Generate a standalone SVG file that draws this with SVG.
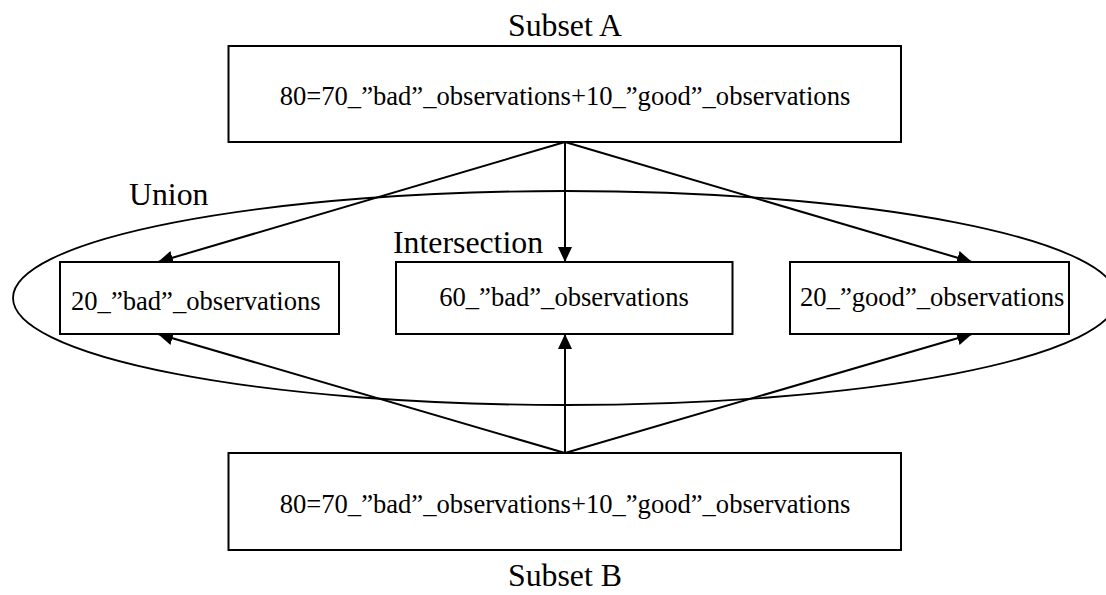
<svg xmlns="http://www.w3.org/2000/svg" width="1106" height="595" viewBox="0 0 1106 595">
  <style>
    .box { fill: #ffffff; stroke: #000000; stroke-width: 2; }
    .txt { font-family: "Liberation Serif", "Times New Roman", serif; font-size: 26.6px; fill: #000000; }
    .lbl { font-family: "Liberation Serif", "Times New Roman", serif; font-size: 31.8px; fill: #000000; }
    .edge { stroke: #000000; stroke-width: 2; fill: none; marker-end: url(#arrow); }
    .union { fill: none; stroke: #000000; stroke-width: 1.8; }
  </style>
  <defs>
    <marker id="arrow" markerUnits="userSpaceOnUse" markerWidth="16" markerHeight="14" refX="15" refY="7" orient="auto">
      <path d="M0,0 L15,7 L0,14 z" fill="#000000"/>
    </marker>
  </defs>
  <rect width="1106" height="595" fill="#ffffff"/>

  <!-- union set outline -->
  <g id="union">
    <ellipse class="union" cx="565" cy="298" rx="552" ry="107"/>
    <text class="lbl" x="129" y="205">Union</text>
  </g>

  <!-- arrows from the two subsets into the partition boxes -->
  <g id="connectors">
    <line class="edge" x1="565" y1="142" x2="158" y2="262"/>
    <line class="edge" x1="565" y1="142" x2="565" y2="262"/>
    <line class="edge" x1="565" y1="142" x2="972" y2="262"/>
    <line class="edge" x1="565" y1="453" x2="158" y2="334"/>
    <line class="edge" x1="565" y1="453" x2="565" y2="334"/>
    <line class="edge" x1="565" y1="453" x2="972" y2="334"/>
  </g>

  <g id="subset-a">
    <text class="lbl" x="565" y="36" text-anchor="middle">Subset A</text>
    <rect class="box" x="228.5" y="46" width="672.5" height="96"/>
    <text class="txt" x="565" y="105" text-anchor="middle">80=70_”bad”_observations+10_”good”_observations</text>
  </g>

  <g id="bad-only">
    <rect class="box" x="60" y="262" width="279" height="72"/>
    <text class="txt" x="71" y="310">20_”bad”_observations</text>
  </g>

  <g id="intersection">
    <text class="lbl" x="393" y="253">Intersection</text>
    <rect class="box" x="396" y="262" width="336.5" height="72"/>
    <text class="txt" x="564" y="306" text-anchor="middle">60_”bad”_observations</text>
  </g>

  <g id="good-only">
    <rect class="box" x="790" y="262" width="279" height="72"/>
    <text class="txt" x="800" y="306">20_”good”_observations</text>
  </g>

  <g id="subset-b">
    <rect class="box" x="228.5" y="453" width="672.5" height="97"/>
    <text class="txt" x="565" y="513" text-anchor="middle">80=70_”bad”_observations+10_”good”_observations</text>
    <text class="lbl" x="565" y="586" text-anchor="middle">Subset B</text>
  </g>
</svg>
